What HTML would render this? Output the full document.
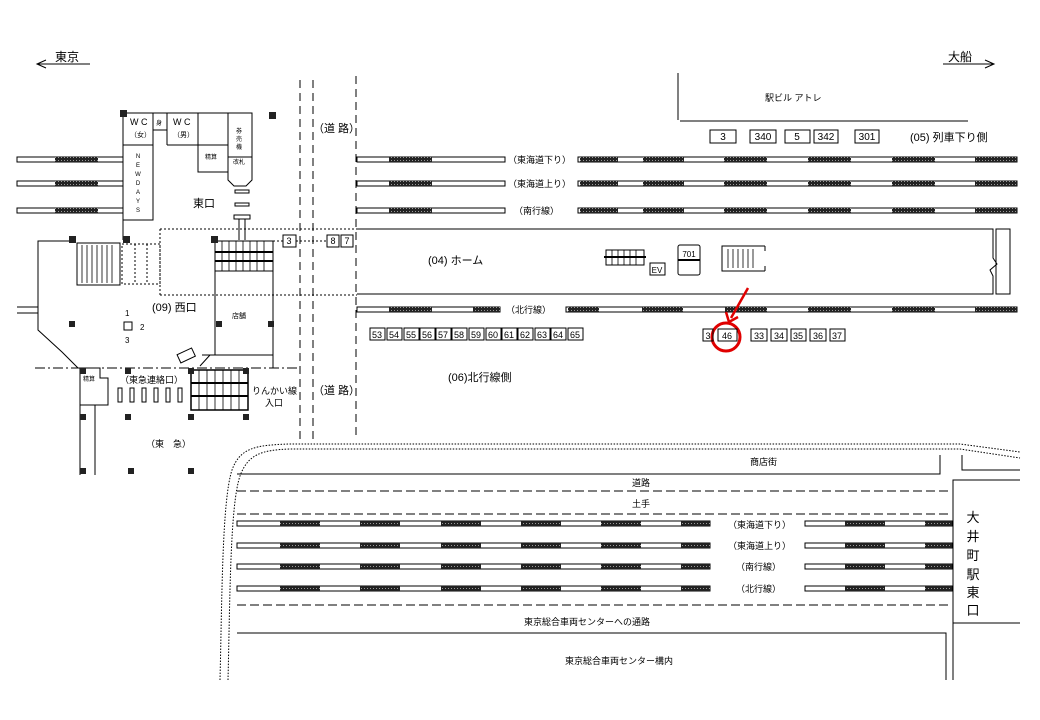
<!DOCTYPE html>
<html><head><meta charset="utf-8"><style>
html,body{margin:0;padding:0;background:#fff;}
svg{display:block;font-family:"Liberation Sans","Noto Sans CJK JP",sans-serif;}
</style></head><body>
<svg width="1040" height="720" viewBox="0 0 1040 720" xmlns="http://www.w3.org/2000/svg">
<defs>
<pattern id="h" width="3" height="3" patternUnits="userSpaceOnUse"><rect width="3" height="3" fill="#222"/><rect x="1" y="1" width="1" height="1" fill="#999"/></pattern>
</defs>
<g stroke="#000" fill="none" stroke-width="1">
<line x1="38" y1="64" x2="90" y2="64"/><polyline points="46,60 37,64 46,68"/>
<line x1="943" y1="64" x2="993" y2="64"/><polyline points="985,60 994,64 985,68"/>
<line x1="678" y1="73" x2="678" y2="120"/><line x1="680" y1="121" x2="968" y2="121"/>
<g stroke-dasharray="8,5"><line x1="300" y1="80" x2="300" y2="440"/><line x1="313" y1="80" x2="313" y2="440"/><line x1="356" y1="76" x2="356" y2="440"/></g>
</g>
<g stroke="#000" fill="#fff" stroke-width="1">
<rect x="17" y="157" width="106" height="5"/><rect x="17" y="181" width="106" height="5"/><rect x="17" y="208" width="106" height="5"/>
<rect x="357" y="157" width="148" height="5"/><rect x="578" y="157" width="439" height="5"/>
<rect x="357" y="181" width="148" height="5"/><rect x="578" y="181" width="439" height="5"/>
<rect x="357" y="208" width="148" height="5"/><rect x="578" y="208" width="439" height="5"/>
<rect x="357" y="307" width="143" height="5"/><rect x="566" y="307" width="451" height="5"/>
<rect x="237" y="521" width="473" height="5"/><rect x="237" y="543" width="473" height="5"/><rect x="237" y="564" width="473" height="5"/><rect x="237" y="586" width="473" height="5"/>
<rect x="805" y="521" width="147" height="5"/><rect x="805" y="543" width="147" height="5"/><rect x="805" y="564" width="147" height="5"/><rect x="805" y="586" width="147" height="5"/>
</g>
<g fill="url(#h)">
<rect x="55" y="157" width="43" height="5"/><rect x="55" y="181" width="43" height="5"/><rect x="55" y="208" width="43" height="5"/>
<g id="rb"><rect x="389" y="157" width="43" height="5"/><rect x="580" y="157" width="38" height="5"/><rect x="643" y="157" width="41" height="5"/><rect x="724" y="157" width="43" height="5"/><rect x="808" y="157" width="43" height="5"/><rect x="892" y="157" width="43" height="5"/><rect x="975" y="157" width="42" height="5"/></g>
<use href="#rb" y="24"/><use href="#rb" y="51"/>
<rect x="389" y="307" width="43" height="5"/><rect x="473" y="307" width="27" height="5"/><rect x="568" y="307" width="31" height="5"/><rect x="642" y="307" width="41" height="5"/><rect x="725" y="307" width="42" height="5"/><rect x="808" y="307" width="43" height="5"/><rect x="892" y="307" width="43" height="5"/><rect x="975" y="307" width="42" height="5"/>
<g id="lb"><rect x="280" y="521" width="40" height="5"/><rect x="360" y="521" width="40" height="5"/><rect x="441" y="521" width="40" height="5"/><rect x="521" y="521" width="40" height="5"/><rect x="601" y="521" width="40" height="5"/><rect x="681" y="521" width="29" height="5"/><rect x="845" y="521" width="40" height="5"/><rect x="925" y="521" width="27" height="5"/></g>
<use href="#lb" y="22"/><use href="#lb" y="43"/><use href="#lb" y="65"/>
</g>
<g stroke="#000" fill="none" stroke-width="1">
<path d="M357,229 H993 V258 L997,264 L990,270 L993,276 V294 H357"/>
<rect x="996" y="229" width="14" height="65"/>
<g stroke-dasharray="2,2"><line x1="160" y1="229" x2="357" y2="229"/><line x1="160" y1="295" x2="357" y2="295"/><line x1="160" y1="229" x2="160" y2="295"/></g>
<path d="M123,113 H252 V180 L246,186 H234 L228,180 V113"/>
<rect x="123" y="145" width="30" height="75"/>
<line x1="123" y1="113" x2="123" y2="145"/><line x1="153" y1="113" x2="153" y2="145"/>
<rect x="153" y="113" width="14" height="17"/><line x1="167" y1="113" x2="167" y2="145"/><line x1="167" y1="145" x2="198" y2="145"/>
<rect x="198" y="113" width="30" height="32"/><rect x="198" y="145" width="30" height="27"/><line x1="228" y1="157" x2="252" y2="157"/>
<rect x="235" y="190" width="14" height="3"/><rect x="235" y="203" width="14" height="3"/><rect x="234" y="215" width="16" height="4"/>
<line x1="239" y1="219" x2="239" y2="240"/><line x1="245" y1="219" x2="245" y2="240"/>
<line x1="123" y1="220" x2="123" y2="240"/>
<rect x="215" y="241" width="58" height="30"/>
<g stroke-width="0.8"><line x1="222" y1="241" x2="222" y2="271"/><line x1="229" y1="241" x2="229" y2="271"/><line x1="236" y1="241" x2="236" y2="271"/><line x1="243" y1="241" x2="243" y2="271"/><line x1="250" y1="241" x2="250" y2="271"/><line x1="257" y1="241" x2="257" y2="271"/><line x1="264" y1="241" x2="264" y2="271"/></g>
<line x1="215" y1="252" x2="273" y2="252" stroke-width="2"/><line x1="215" y1="261" x2="273" y2="261" stroke-width="2"/>
<line x1="215" y1="271" x2="215" y2="355"/><line x1="273" y1="271" x2="273" y2="368"/>
<path d="M202,355 H273"/>
<rect x="77" y="243" width="43" height="42"/>
<g stroke-width="0.8"><line x1="82" y1="245" x2="82" y2="283"/><line x1="87" y1="245" x2="87" y2="283"/><line x1="92" y1="245" x2="92" y2="283"/><line x1="97" y1="245" x2="97" y2="283"/><line x1="102" y1="245" x2="102" y2="283"/><line x1="107" y1="245" x2="107" y2="283"/><line x1="112" y1="245" x2="112" y2="283"/></g>
<g stroke-dasharray="2,2"><rect x="122" y="244" width="38" height="40"/><line x1="135" y1="244" x2="135" y2="284"/><line x1="147" y1="244" x2="147" y2="284"/></g>
<polyline points="75,241 38,241 38,330 62,352 78,368"/>
<line x1="17" y1="307" x2="38" y2="307"/><line x1="17" y1="313" x2="38" y2="313"/>
<line x1="35" y1="368" x2="300" y2="368" stroke-dasharray="10,3,2,3"/>
<path d="M80,368 V475 M95,405 V475 M80,368 H100 V378 H108 V405 H80"/>
<rect x="118" y="388" width="4" height="14"/><rect x="130" y="388" width="4" height="14"/><rect x="142" y="388" width="4" height="14"/><rect x="154" y="388" width="4" height="14"/><rect x="166" y="388" width="4" height="14"/><rect x="178" y="388" width="4" height="14"/>
<rect x="191" y="370" width="57" height="40" stroke-width="1.5"/>
<line x1="191" y1="383" x2="248" y2="383" stroke-width="2"/><line x1="191" y1="396" x2="248" y2="396" stroke-width="2"/>
<g stroke-width="0.8"><line x1="199" y1="370" x2="199" y2="410"/><line x1="207" y1="370" x2="207" y2="410"/><line x1="215" y1="370" x2="215" y2="410"/><line x1="223" y1="370" x2="223" y2="410"/><line x1="231" y1="370" x2="231" y2="410"/><line x1="239" y1="370" x2="239" y2="410"/></g>
<path d="M200,366 L210,355" />
<rect x="178" y="351" width="16" height="9" transform="rotate(-25 186 355)"/>
<rect x="606" y="250" width="38" height="15"/>
<g stroke-width="0.8"><line x1="612" y1="250" x2="612" y2="265"/><line x1="618" y1="250" x2="618" y2="265"/><line x1="624" y1="250" x2="624" y2="265"/><line x1="630" y1="250" x2="630" y2="265"/><line x1="636" y1="250" x2="636" y2="265"/></g>
<line x1="604" y1="257" x2="646" y2="257" stroke-width="2"/>
<rect x="650" y="263" width="15" height="12"/>
<rect x="678" y="245" width="22" height="30" rx="2"/><line x1="678" y1="260" x2="700" y2="260" stroke-width="2"/>
<path d="M765,246 H722 V271 H765 M765,246 V251 M765,271 V266"/>
<g stroke-width="0.8"><line x1="728" y1="249" x2="728" y2="268"/><line x1="733" y1="249" x2="733" y2="268"/><line x1="738" y1="249" x2="738" y2="268"/><line x1="743" y1="249" x2="743" y2="268"/><line x1="748" y1="249" x2="748" y2="268"/><line x1="753" y1="249" x2="753" y2="268"/></g>
<rect x="710" y="130" width="26" height="13"/><rect x="750" y="130" width="26" height="13"/><rect x="785" y="130" width="25" height="13"/><rect x="814" y="130" width="24" height="13"/><rect x="855" y="130" width="24" height="13"/>
<rect x="283" y="235" width="13" height="12"/><rect x="327" y="235" width="12" height="12"/><rect x="341" y="235" width="12" height="12"/>
<line x1="273" y1="241" x2="283" y2="241" stroke-dasharray="2,2"/><line x1="296" y1="241" x2="327" y2="241" stroke-dasharray="2,2"/>
<path d="M220,680 C222,600 222,500 232,470 C240,448 255,445 290,444 H960 L1020,452" stroke-dasharray="1.5,1.5"/>
<path d="M228,680 C230,600 230,505 240,476 C248,454 262,450 290,449 H960 L1020,458" stroke-dasharray="1.5,1.5"/>
<path d="M237,474 H940 V455"/><path d="M962,455 V470 H1020"/>
<g stroke-dasharray="9,4"><line x1="237" y1="491" x2="952" y2="491"/><line x1="237" y1="514" x2="952" y2="514"/><line x1="237" y1="605" x2="952" y2="605"/></g>
<path d="M237,633 H946 V680"/>
<path d="M1020,480 H953 V680 M953,623 H1020"/>
<circle cx="726" cy="337" r="14" stroke="#e00000" stroke-width="3"/>
<line x1="748" y1="288" x2="731" y2="318" stroke="#e00000" stroke-width="2.5"/>
<polyline points="726,312 729,322 738,317" stroke="#e00000" stroke-width="2.5"/>
</g>
<g font-size="9" text-anchor="middle">
<g stroke="#000" fill="none">
<rect x="370" y="328" width="15" height="12"/><rect x="387" y="328" width="15" height="12"/><rect x="404" y="328" width="15" height="12"/><rect x="420" y="328" width="15" height="12"/><rect x="436" y="328" width="15" height="12"/><rect x="452" y="328" width="15" height="12"/><rect x="469" y="328" width="15" height="12"/><rect x="486" y="328" width="15" height="12"/><rect x="502" y="328" width="15" height="12"/><rect x="518" y="328" width="15" height="12"/><rect x="535" y="328" width="15" height="12"/><rect x="551" y="328" width="15" height="12"/><rect x="568" y="328" width="15" height="12"/>
<rect x="703" y="329" width="10" height="12"/><rect x="718" y="329" width="19" height="12"/><rect x="751" y="329" width="16" height="12"/><rect x="771" y="329" width="16" height="12"/><rect x="791" y="329" width="15" height="12"/><rect x="810" y="329" width="16" height="12"/><rect x="830" y="329" width="15" height="12"/>
</g>
<text x="377" y="338">53</text><text x="394" y="338">54</text><text x="411" y="338">55</text><text x="427" y="338">56</text><text x="443" y="338">57</text><text x="459" y="338">58</text><text x="476" y="338">59</text><text x="493" y="338">60</text><text x="509" y="338">61</text><text x="525" y="338">62</text><text x="542" y="338">63</text><text x="558" y="338">64</text><text x="575" y="338">65</text>
<text x="708" y="339">3</text><text x="727" y="339">46</text><text x="759" y="339">33</text><text x="779" y="339">34</text><text x="798" y="339">35</text><text x="818" y="339">36</text><text x="837" y="339">37</text>
<text x="723" y="140" font-size="10">3</text><text x="763" y="140" font-size="10">340</text><text x="797" y="140" font-size="10">5</text><text x="826" y="140" font-size="10">342</text><text x="867" y="140" font-size="10">301</text>
<text x="289" y="244">3</text><text x="333" y="244">8</text><text x="347" y="244">7</text>
<text x="689" y="257" font-size="8">701</text><text x="657" y="273" font-size="8">EV</text>
</g>
<g font-size="10" fill="#000">
<text x="55" y="61" font-size="12">東京</text><text x="948" y="61" font-size="12">大船</text>
<text x="765" y="101" font-size="9">駅ビル アトレ</text>
<text x="910" y="141" font-size="11">(05) 列車下り側</text>
<text x="508" y="163" font-size="9">（東海道下り）</text><text x="508" y="187" font-size="9">（東海道上り）</text><text x="514" y="214" font-size="9">（南行線）</text><text x="506" y="313" font-size="9">（北行線）</text>
<text x="428" y="264" font-size="11">(04) ホーム</text>
<text x="448" y="381" font-size="11">(06)北行線側</text>
<text x="313" y="132" font-size="11">（道 路）</text><text x="313" y="394" font-size="11">（道 路）</text>
<text x="130" y="125" font-size="9">W C</text><text x="130" y="137" font-size="7">（女）</text>
<text x="173" y="125" font-size="9">W C</text><text x="173" y="137" font-size="7">（男）</text>
<text x="156" y="125" font-size="6">身</text>
<text x="205" y="159" font-size="6">精算</text><text x="233" y="164" font-size="6">改札</text>
<text x="236" y="133" font-size="6">券</text><text x="236" y="141" font-size="6">売</text><text x="236" y="149" font-size="6">機</text>
<g font-size="6" text-anchor="middle"><text x="138" y="158">N</text><text x="138" y="167">E</text><text x="138" y="176">W</text><text x="138" y="185">D</text><text x="138" y="194">A</text><text x="138" y="203">Y</text><text x="138" y="212">S</text></g>
<text x="193" y="207" font-size="11">東口</text>
<text x="152" y="311" font-size="11">(09) 西口</text>
<text x="232" y="318" font-size="7">店舗</text>
<text x="83" y="381" font-size="6">精算</text>
<text x="120" y="383" font-size="9">（東急連絡口）</text>
<text x="252" y="394" font-size="9">りんかい線</text><text x="265" y="406" font-size="9">入口</text>
<text x="146" y="447" font-size="9">（東　急）</text>
<text x="125" y="316" font-size="8">1</text><text x="125" y="343" font-size="8">3</text><text x="140" y="330" font-size="8">2</text>
<text x="750" y="465" font-size="9">商店街</text><text x="632" y="486" font-size="9">道路</text><text x="632" y="507" font-size="9">土手</text>
<text x="728" y="528" font-size="9">（東海道下り）</text><text x="728" y="549" font-size="9">（東海道上り）</text><text x="736" y="570" font-size="9">（南行線）</text><text x="736" y="592" font-size="9">（北行線）</text>
<text x="524" y="625" font-size="9">東京総合車両センターへの通路</text>
<text x="565" y="664" font-size="9">東京総合車両センター構内</text>
<g font-size="13" text-anchor="middle"><text x="973" y="522">大</text><text x="973" y="541">井</text><text x="973" y="560">町</text><text x="973" y="579">駅</text><text x="973" y="597">東</text><text x="973" y="615">口</text></g>
</g>
<g fill="#222">
<rect x="120" y="110" width="7" height="7"/><rect x="269" y="112" width="7" height="7"/><rect x="69" y="236" width="7" height="7"/><rect x="123" y="236" width="7" height="7"/><rect x="211" y="236" width="7" height="7"/>
<rect x="69" y="321" width="6" height="6"/><rect x="216" y="321" width="6" height="6"/><rect x="268" y="321" width="6" height="6"/>
<rect x="80" y="368" width="6" height="6"/><rect x="125" y="368" width="6" height="6"/><rect x="188" y="368" width="6" height="6"/><rect x="243" y="368" width="6" height="6"/>
<rect x="80" y="414" width="6" height="6"/><rect x="125" y="414" width="6" height="6"/><rect x="188" y="414" width="6" height="6"/><rect x="243" y="414" width="6" height="6"/>
<rect x="80" y="468" width="6" height="6"/><rect x="128" y="468" width="6" height="6"/><rect x="188" y="468" width="6" height="6"/>
<rect x="124" y="322" width="8" height="8" fill="none" stroke="#000"/>
</g>
</svg>
</body></html>
